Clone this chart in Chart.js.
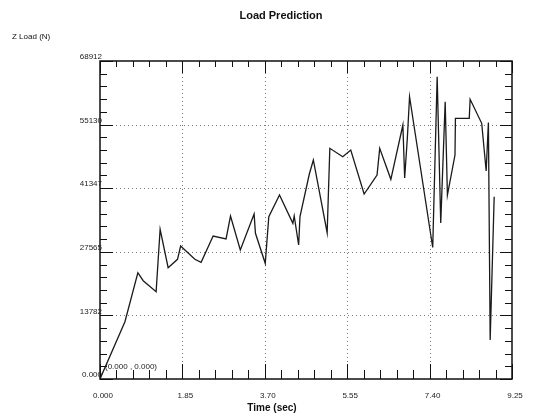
<!DOCTYPE html>
<html>
<head>
<meta charset="utf-8">
<script src="https://cdn.jsdelivr.net/npm/chart.js@4.4.1/dist/chart.umd.min.js"></script>
<style>
    body { margin: 0; background: #fff; }
    canvas { display: block; }
</style>
</head>
<body>
<canvas id="graficoCarga" width="533" height="418"></canvas>
<script>
// datos
const tiempo = [0, 0.56, 0.85, 0.97, 1.26, 1.35, 1.53, 1.74, 1.81, 2.13, 2.27, 2.54, 2.83, 2.93, 3.15, 3.46, 3.49, 3.71, 3.79, 4.03,
    4.33, 4.36, 4.46, 4.49, 4.70, 4.79, 5.10, 5.16, 5.45, 5.63, 5.93, 6.22, 6.28, 6.53, 6.80, 6.84, 6.90, 6.95, 7.47, 7.57,
    7.65, 7.75, 7.80, 7.97, 7.98, 8.29, 8.31, 8.57, 8.67, 8.72, 8.76, 8.85]
const cargaZ = [0, 12420, 23030, 21300, 18920, 32440, 24120, 25940, 28820, 25940, 25290, 30990, 30340, 35320, 27950, 35750, 31570, 25070, 35170, 39870,
    33740, 35320, 29040, 35170, 44420, 47460, 31700, 49990, 48170, 49620, 40090, 44200, 49990, 43270, 55040, 43560, 52160, 61170, 28500, 65510,
    33800, 60090, 39870, 48540, 56490, 56490, 60610, 55410, 45070, 55580, 8450, 39500]

const ticksX = [0, 1.85, 3.70, 5.55, 7.40, 9.25]
const etiquetasX = ['0.000', '1.85', '3.70', '5.55', '7.40', '9.25']
const ticksY = [0, 13782, 27565, 41347, 55130, 68912]
const etiquetasY = ['0.000', '13782', '27565', '41347', '55130', '68912']

const titulo = 'Load Prediction'
const tituloY = 'Z Load (N)'
const tituloX = 'Time (sec)'
const origenTexto = '(0.000 , 0.000)'

document.addEventListener('DOMContentLoaded', function () {

    const ctx = document.getElementById('graficoCarga').getContext('2d')

    // dibuja la rejilla punteada detras de la linea
    const rejilla = {
        id: 'rejilla',
        beforeDatasetsDraw(chart) {
            const c = chart.ctx
            const a = chart.chartArea
            const sx = chart.scales.x
            const sy = chart.scales.y
            c.save()
            c.strokeStyle = '#777'
            c.lineWidth = 1
            c.setLineDash([1, 3])
            ticksX.slice(1, -1).forEach(v => {
                const px = Math.round(sx.getPixelForValue(v)) + 0.5
                c.beginPath(); c.moveTo(px, a.top); c.lineTo(px, a.bottom); c.stroke()
            })
            ticksY.slice(1, -1).forEach(v => {
                const py = Math.round(sy.getPixelForValue(v)) + 0.5
                c.beginPath(); c.moveTo(a.left, py); c.lineTo(a.right, py); c.stroke()
            })
            c.restore()
        }
    }

    // marco, marcas de ejes y textos
    const marco = {
        id: 'marco',
        afterDatasetsDraw(chart) {
            const c = chart.ctx
            const a = chart.chartArea
            const sx = chart.scales.x
            const sy = chart.scales.y
            c.save()
            c.strokeStyle = '#111'
            c.lineWidth = 1.5
            c.strokeRect(a.left, a.top, a.right - a.left, a.bottom - a.top)

            c.lineWidth = 1
            // marcas menores y mayores en x
            for (let i = 0; i < ticksX.length; i++) {
                const paso = i < ticksX.length - 1 ? (ticksX[i + 1] - ticksX[i]) / 5 : 0
                for (let j = 0; j < 5; j++) {
                    if (j > 0 && paso === 0) break
                    const px = Math.round(sx.getPixelForValue(ticksX[i] + paso * j)) + 0.5
                    const mayor = j === 0
                    c.beginPath()
                    c.moveTo(px, a.bottom); c.lineTo(px, a.bottom - (mayor ? 15 : 9))
                    c.moveTo(px, a.top); c.lineTo(px, a.top + (mayor ? 12 : 6))
                    c.stroke()
                }
            }
            // marcas en y
            for (let i = 0; i < ticksY.length; i++) {
                const paso = i < ticksY.length - 1 ? (ticksY[i + 1] - ticksY[i]) / 5 : 0
                for (let j = 0; j < 5; j++) {
                    if (j > 0 && paso === 0) break
                    const py = Math.round(sy.getPixelForValue(ticksY[i] + paso * j)) + 0.5
                    const mayor = j === 0
                    c.beginPath()
                    c.moveTo(a.left, py); c.lineTo(a.left + (mayor ? 13 : 7), py)
                    c.moveTo(a.right, py); c.lineTo(a.right - (mayor ? 12 : 7), py)
                    c.stroke()
                }
            }

            c.fillStyle = '#222'
            c.font = '8px "Liberation Sans", Arial, sans-serif'
            c.textBaseline = 'middle'
            c.textAlign = 'right'
            ticksY.forEach((v, i) => {
                c.fillText(etiquetasY[i], a.left + 2, sy.getPixelForValue(v) - 4)
            })
            c.textAlign = 'center'
            ticksX.forEach((v, i) => {
                c.fillText(etiquetasX[i], sx.getPixelForValue(v) + 3, a.bottom + 17)
            })
            c.textAlign = 'left'
            c.fillText(origenTexto, a.left + 5, a.bottom - 12)

            c.fillStyle = '#111'
            c.font = 'bold 11px "Liberation Sans", Arial, sans-serif'
            c.textAlign = 'center'
            c.fillText(titulo, 281, 16)
            c.font = 'bold 10px "Liberation Sans", Arial, sans-serif'
            c.fillText(tituloX, 272, a.bottom + 29)
            c.font = '8px "Liberation Sans", Arial, sans-serif'
            c.textAlign = 'left'
            c.fillText(tituloY, 12, 37)
            c.restore()
        }
    }

    const grafico = new Chart(ctx, {
        type: 'line',
        data: {
            datasets: [{
                label: 'Z Load',
                data: tiempo.map((t, i) => ({ x: t, y: cargaZ[i] })),
                borderColor: '#1a1a1a',
                borderWidth: 1.3,
                pointRadius: 0,
                tension: 0,
                fill: false
            }]
        },
        options: {
            responsive: false,
            animation: false,
            devicePixelRatio: 1,
            layout: {
                padding: { left: 100, right: 21, top: 61, bottom: 39 }
            },
            scales: {
                x: { type: 'linear', min: 0, max: 9.25, display: false },
                y: { type: 'linear', min: 0, max: 68912, display: false }
            },
            plugins: {
                legend: { display: false },
                tooltip: { enabled: false }
            }
        },
        plugins: [rejilla, marco]
    })
})
</script>
</body>
</html>
